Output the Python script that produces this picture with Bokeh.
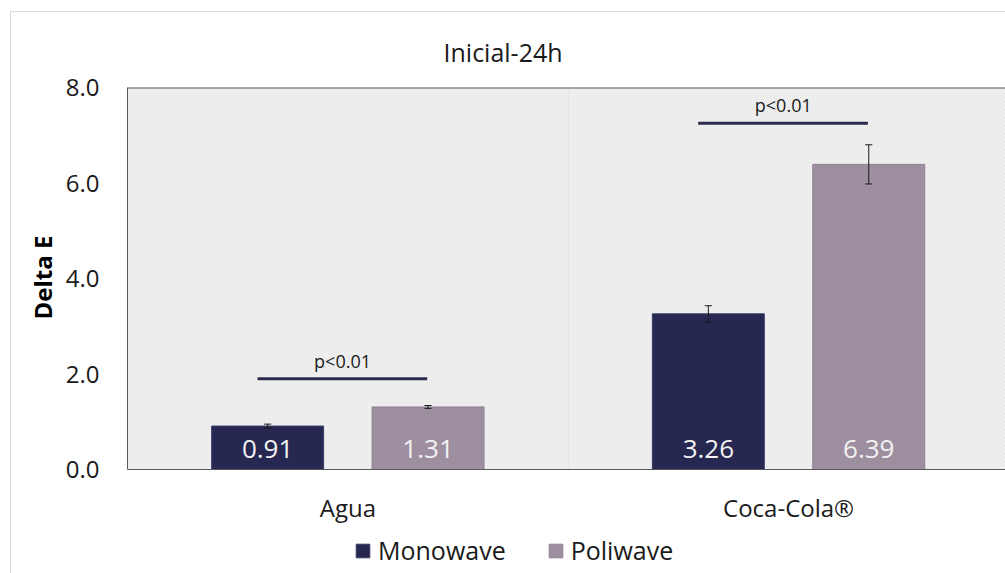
from bokeh.plotting import figure
from bokeh.models import ColumnDataSource, Legend, LegendItem, FixedTicker, Range1d, Span, Title
from bokeh.core.properties import value
from bokeh.embed import file_html
from bokeh.resources import INLINE

# ---- data ----
categories = ["Agua", "Coca-Cola®"]
monowave = [0.91, 3.26]
poliwave = [1.31, 6.39]
mono_err = [0.04, 0.17]
poli_err = [0.03, 0.41]
sig_labels = ["p<0.01", "p<0.01"]
sig_heights = [1.9, 7.25]
y_ticks = [0, 2, 4, 6, 8]

FONT = "Open Sans"
MONO_C = "#272852"
POLI_C = "#9d8f9f"
W, H = 1005, 573
FRAME_L, FRAME_T = 127, 87
PX_PER_CAT = 440.7
PX_PER_UNIT = 47.75

n = len(categories)
centers = [i + 0.5 for i in range(n)]
off = 0.182
bw = 0.254
cap = 0.008

x_end = (W - FRAME_L) / PX_PER_CAT
y_top = y_ticks[-1]
y_start = y_top - (H - FRAME_T) / PX_PER_UNIT

p = figure(width=W, height=H, output_backend="svg", toolbar_location=None,
           x_range=Range1d(0, x_end), y_range=Range1d(y_start, y_top))
p.min_border_left = FRAME_L
p.min_border_right = 0
p.min_border_top = FRAME_T
p.min_border_bottom = 0
p.background_fill_color = "white"
p.border_fill_color = "white"
p.border_fill_alpha = 0
p.outline_line_color = None
# faint outer chart border (left and top edges only, as in the reference)
p.styles = {
    "background": "linear-gradient(#d9d9d9, #d9d9d9) 10px 11px / 1px 562px no-repeat, "
                  "linear-gradient(#d9d9d9, #d9d9d9) 10px 11px / 995px 1px no-repeat, white"
}

p.title.text = "Inicial-24h"
p.title.align = "left"
p.title.offset = 316
p.title.text_font = FONT
p.title.text_font_size = "25px"
p.title.text_font_style = "normal"
p.title.text_color = "#1a1a1a"
p.title.standoff = 38

# hatched plot area
p.quad(left=[0], right=[2], bottom=[0], top=[y_top], fill_color="#f7f7f7", line_color=None,
       hatch_pattern="\\", hatch_color="#e3e3e3", hatch_scale=4, hatch_weight=1)

# grid
p.xgrid.visible = False
p.ygrid.grid_line_color = "#e2e2e2"
p.ygrid.ticker = FixedTicker(ticks=y_ticks[1:-1])
p.segment(x0=[1], x1=[1], y0=[0], y1=[y_top], line_color="#e2e2e2", line_width=1)
p.add_layout(Span(location=y_top, dimension="width", line_color="#595959", line_width=2))

src = ColumnDataSource(dict(
    xm=[c - off for c in centers], xp=[c + off for c in centers],
    mono=monowave, poli=poliwave,
    mono_lo=[v - e for v, e in zip(monowave, mono_err)],
    mono_hi=[v + e for v, e in zip(monowave, mono_err)],
    poli_lo=[v - e for v, e in zip(poliwave, poli_err)],
    poli_hi=[v + e for v, e in zip(poliwave, poli_err)],
    mono_lbl=["%.2f" % v for v in monowave],
    poli_lbl=["%.2f" % v for v in poliwave],
    zero=[0] * n,
))

r_mono = p.vbar(x="xm", top="mono", width=bw, source=src, fill_color=MONO_C, line_color="#3a3b66")
r_poli = p.vbar(x="xp", top="poli", width=bw, source=src, fill_color=POLI_C, line_color="#8d8191")

# error bars
for xx, lo, hi in (("xm", "mono_lo", "mono_hi"), ("xp", "poli_lo", "poli_hi")):
    xs = src.data[xx]
    los = src.data[lo]
    his = src.data[hi]
    p.segment(x0=xs, x1=xs, y0=los, y1=his, line_color="#1a1a1a", line_width=1)
    p.segment(x0=[x - cap for x in xs], x1=[x + cap for x in xs], y0=his, y1=his,
              line_color="#1a1a1a", line_width=1)
    p.segment(x0=[x - cap for x in xs], x1=[x + cap for x in xs], y0=los, y1=los,
              line_color="#1a1a1a", line_width=1)

for xx, lbl in (("xm", "mono_lbl"), ("xp", "poli_lbl")):
    p.text(x=xx, y="zero", text=lbl, source=src, text_align="center", text_baseline="middle",
           y_offset=-21, text_color="#f2f2f2", text_font=value(FONT), text_font_size="26px")

# significance brackets
sig_src = ColumnDataSource(dict(
    x0=[c - 0.205 for c in centers], x1=[c + 0.18 for c in centers],
    xc=[c - 0.012 for c in centers], y=sig_heights, t=sig_labels))
p.segment(x0="x0", x1="x1", y0="y", y1="y", source=sig_src, line_color="#2b2b4f", line_width=3)
p.text(x="xc", y="y", text="t", source=sig_src, text_align="center", text_baseline="bottom",
       y_offset=-6, text_color="#1a1a1a", text_font=value(FONT), text_font_size="18px")

# axes
p.yaxis.ticker = FixedTicker(ticks=y_ticks)
p.yaxis.bounds = (0, y_top)
p.yaxis.major_label_overrides = {t: "%.1f" % t for t in y_ticks}
p.yaxis.major_tick_line_color = None
p.yaxis.minor_tick_line_color = None
p.yaxis.axis_line_color = "#595959"
p.yaxis.major_label_text_font = FONT
p.yaxis.major_label_text_font_size = "24px"
p.yaxis.major_label_text_color = "#1a1a1a"
p.yaxis.major_label_standoff = 22

# y-axis title, placed alongside the 0..8 span rather than the whole frame
ylab = Title(text="Delta E", align="left", offset=254,
             text_font=FONT, text_font_size="24px", text_font_style="bold",
             text_color="#000000", standoff=8)
p.add_layout(ylab, "left")

p.xaxis.fixed_location = 0
p.xaxis.ticker = FixedTicker(ticks=centers)
p.xaxis.major_label_overrides = {c: cat for c, cat in zip(centers, categories)}
p.xaxis.major_tick_line_color = None
p.xaxis.minor_tick_line_color = None
p.xaxis.axis_line_color = "#595959"
p.xaxis.major_label_text_font = FONT
p.xaxis.major_label_text_font_size = "24px"
p.xaxis.major_label_text_color = "#1a1a1a"
p.xaxis.major_label_standoff = 15

legend = Legend(items=[LegendItem(label="Monowave", renderers=[r_mono]),
                       LegendItem(label="Poliwave", renderers=[r_poli])],
                orientation="horizontal", location=(227, 6),
                glyph_width=17, glyph_height=17, label_standoff=7, spacing=41,
                padding=0, margin=0, border_line_color=None, background_fill_alpha=0,
                label_text_font=FONT, label_text_font_size="25px", label_text_color="#1a1a1a")
p.add_layout(legend)

open("out.html", "w").write(file_html(p, INLINE))
